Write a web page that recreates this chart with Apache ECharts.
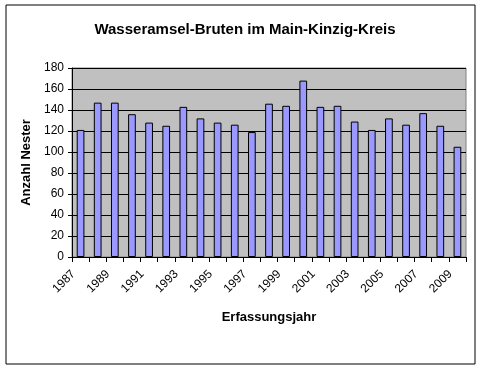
<!DOCTYPE html>
<html>
<head>
<meta charset="utf-8">
<script src="https://cdn.jsdelivr.net/npm/echarts@6/dist/echarts.min.js"></script>
<style>
html,body{margin:0;padding:0;background:#fff;}
#c{width:483px;height:371px;}
</style>
</head>
<body>
<div id="c"></div>
<script>
const title = "Wasseramsel-Bruten im Main-Kinzig-Kreis";
const yAxisName = "Anzahl Nester";
const xAxisName = "Erfassungsjahr";
const years = ["1987","1988","1989","1990","1991","1992","1993","1994","1995","1996","1997","1998","1999","2000","2001","2002","2003","2004","2005","2006","2007","2008","2009"];
const nests = [121,147,147,136,128,125,143,132,128,126,119,146,144,168,143,144,129,121,132,126,137,125,105];

const chart = echarts.init(document.getElementById('c'), null, {renderer:'canvas'});
const font = 'Liberation Sans, Arial, sans-serif';
chart.setOption({
  animation:false,
  backgroundColor:'#fff',
  graphic:[{
    type:'rect', shape:{x:6, y:5, width:469, height:359},
    style:{fill:'none', stroke:'#000', lineWidth:1}
  }],
  title:{
    text:title, left:240, top:17, textAlign:'center',
    textStyle:{fontFamily:font, fontSize:15, fontWeight:'bold', color:'#000'}
  },
  grid:{left:72, right:17, top:68, bottom:114, show:true, backgroundColor:'#C0C0C0', borderColor:'#808080', borderWidth:1},
  xAxis:{
    type:'category', data:years,
    name:xAxisName, nameLocation:'middle', nameGap:54,
    nameTextStyle:{fontFamily:font, fontSize:13, fontWeight:'bold', color:'#000'},
    axisLine:{show:true, lineStyle:{color:'#000', width:1}},
    axisTick:{show:true, alignWithLabel:false, interval:0, length:5, lineStyle:{color:'#000'}},
    axisLabel:{interval:1, rotate:45, fontFamily:font, fontSize:12, color:'#000', margin:8, padding:[0,10,0,0]},
    splitLine:{show:false}
  },
  yAxis:{
    type:'value', min:0, max:180, interval:20,
    name:yAxisName, nameLocation:'middle', nameGap:38, nameRotate:90,
    nameTextStyle:{fontFamily:font, fontSize:13, fontWeight:'bold', color:'#000'},
    axisLine:{show:true, lineStyle:{color:'#000', width:1}},
    axisTick:{show:true, length:4, lineStyle:{color:'#000'}},
    axisLabel:{fontFamily:font, fontSize:12, color:'#000', margin:8},
    splitLine:{show:true, lineStyle:{color:'#000', width:1}}
  },
  series:[{
    type:'bar', data:nests, barWidth:'45%',
    itemStyle:{color:'#9999FF', borderColor:'#000', borderWidth:1}
  }]
});
</script>
</body>
</html>
